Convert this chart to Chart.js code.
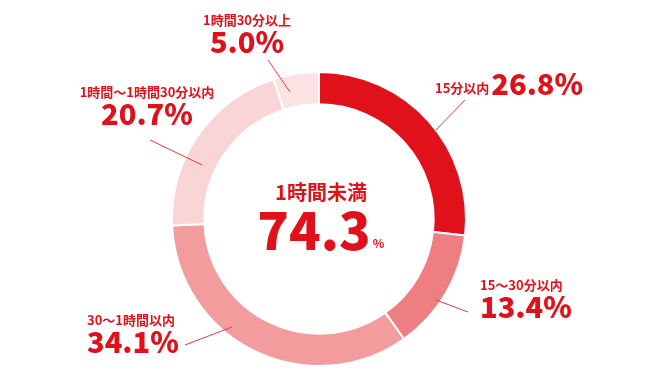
<!DOCTYPE html>
<html>
<head>
<meta charset="utf-8">
<script src="https://cdn.jsdelivr.net/npm/chart.js@4.4.0/dist/chart.umd.min.js"></script>
<style>
  html, body { margin: 0; padding: 0; background: #fff; }
  #wrap { width: 650px; height: 380px; }
</style>
</head>
<body>
<div id="wrap"><canvas id="commuteChart" width="650" height="380"></canvas></div>
<script>
// Data
const categories = ['15分以内', '15～30分以内', '30～1時間以内', '1時間～1時間30分以内', '1時間30分以上'];
const shares = [26.8, 13.4, 34.1, 20.7, 5.0];
const sliceColors = ['#e0111a', '#ee7e81', '#f29c9e', '#f9d5d6', '#fbe3e4'];
const centerTitle = '1時間未満';
const centerValue = '74.3';

const RED = '#e0111a';
const FONT = '"Noto Sans CJK JP", "Noto Sans", sans-serif';

// label layout: where each category's text sits and its leader line
const labelLayout = [
    { mode: 'inline', x: 435, y: 86, line: [[465, 100], [436, 130]] },
    { mode: 'left', x: 480, y: 285, line: [[436, 300], [468, 312]] },
    { mode: 'left', x: 87, y: 320, line: [[232, 327], [185, 345]] },
    { mode: 'center', x: 147, y: 92, line: [[202, 165], [150, 140]] },
    { mode: 'center', x: 247, y: 20, line: [[290, 92], [268, 60]] }
];

// Function to draw labels, leader lines and center text
const labelPlugin = {
    id: 'sliceLabels',
    afterDraw(chart) {
        const ctx = chart.ctx;
        const meta = chart.getDatasetMeta(0);
        ctx.save();
        ctx.fillStyle = RED;
        ctx.textBaseline = 'middle';

        labelLayout.forEach((lay, i) => {
            const name = categories[i];
            const pct = shares[i].toFixed(1) + '%';
            // leader line
            ctx.strokeStyle = '#e63a40';
            ctx.lineWidth = 1;
            ctx.beginPath();
            ctx.moveTo(lay.line[0][0], lay.line[0][1]);
            ctx.lineTo(lay.line[1][0], lay.line[1][1]);
            ctx.stroke();

            if (lay.mode === 'inline') {
                ctx.textAlign = 'left';
                ctx.font = 'bold 13px ' + FONT;
                ctx.fillText(name, lay.x, lay.y + 2);
                const w = ctx.measureText(name).width;
                ctx.font = '900 29px ' + FONT;
                ctx.fillText(pct, lay.x + w + 2, lay.y - 2);
            } else {
                ctx.textAlign = lay.mode;
                ctx.font = 'bold 13px ' + FONT;
                ctx.fillText(name, lay.x, lay.y);
                ctx.font = '900 29px ' + FONT;
                ctx.fillText(pct, lay.x, lay.y + 22);
            }
        });

        // center text
        const arc = meta.data[0];
        const cx = arc.x, cy = arc.y;
        ctx.textAlign = 'center';
        ctx.font = 'bold 20px ' + FONT;
        ctx.fillText(centerTitle, cx + 2, cy - 27);
        ctx.font = '900 52px ' + FONT;
        ctx.fillText(centerValue, cx - 5, cy + 11);
        const vw = ctx.measureText(centerValue).width;
        ctx.textAlign = 'left';
        ctx.font = 'bold 12px ' + FONT;
        ctx.fillText('%', cx - 5 + vw / 2 + 2, cy + 24);
        ctx.restore();
    }
};

function drawCommuteChart() {
    const ctx = document.getElementById('commuteChart').getContext('2d');
    const config = {
        type: 'doughnut',
        data: {
            labels: categories,
            datasets: [{
                data: shares,
                backgroundColor: sliceColors,
                borderColor: '#ffffff',
                borderWidth: 2
            }]
        },
        options: {
            responsive: false,
            animation: false,
            cutout: '78%',
            layout: { padding: { left: 171, right: 183, top: 71, bottom: 13 } },
            plugins: {
                legend: { display: false },
                tooltip: { enabled: false }
            }
        },
        plugins: [labelPlugin]
    };
    new Chart(ctx, config);
}

drawCommuteChart();
</script>
</body>
</html>
